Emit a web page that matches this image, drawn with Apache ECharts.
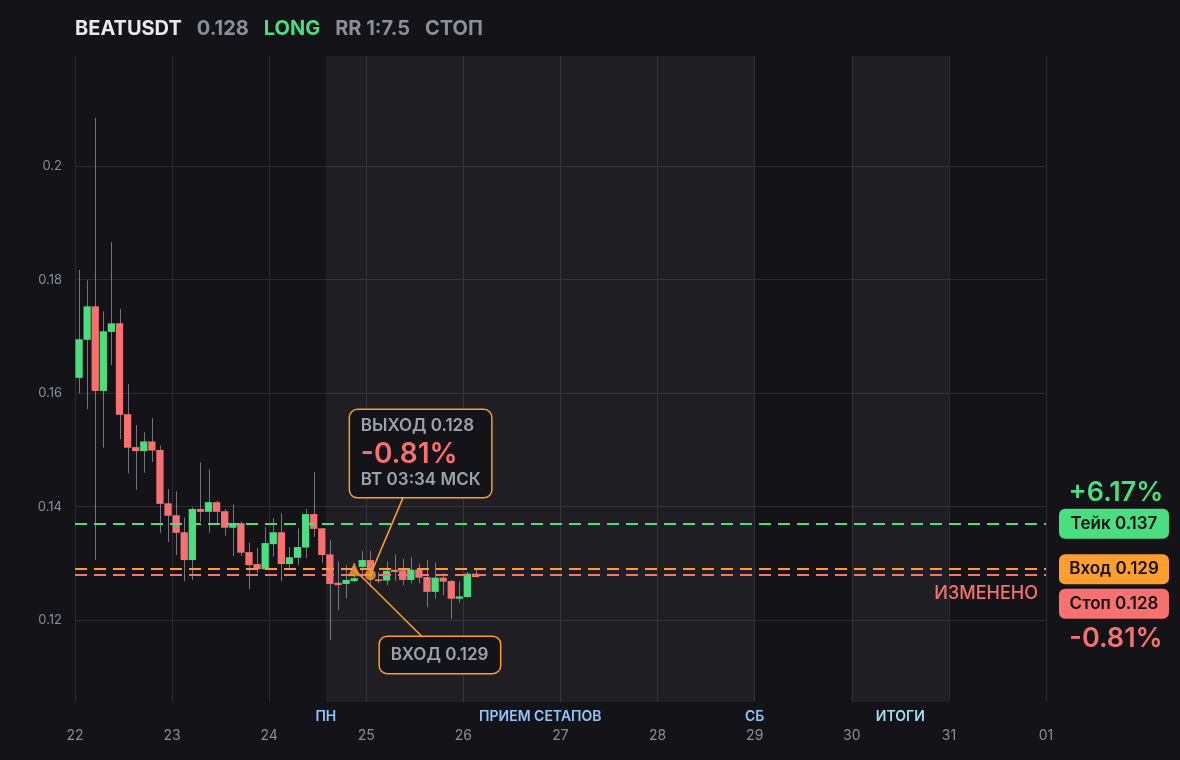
<!DOCTYPE html>
<html><head><meta charset="utf-8">
<script src="https://cdn.jsdelivr.net/npm/echarts@6/dist/echarts.min.js"></script>
<style>html,body{margin:0;padding:0;background:#131318;}#c{width:1180px;height:760px;}</style>
</head><body><div id="c"></div>
<script>
// ---- data ----
const dayLabels = ['22','23','24','25','26','27','28','29','30','31','01'];
const candleHours = 2;
const candleOpen  = [0.1627,0.1694,0.1753,0.1604,0.1708,0.1723,0.1563,0.1505,0.1498,0.1515,0.1500,0.1406,0.1385,0.1355,0.1306,0.1396,0.1391,0.1408,0.1392,0.1363,0.1371,0.1320,0.1299,0.1290,0.1334,0.1355,0.1299,0.1310,0.1328,0.1387,0.1362,0.1316,0.1266,0.1264,0.1269,0.1294,0.1306,0.1272,0.1270,0.1289,0.1288,0.1271,0.1289,0.1276,0.1250,0.1275,0.1269,0.1238,0.1241,0.1282];
const candleClose = [0.1695,0.1753,0.1604,0.1709,0.1723,0.1562,0.1504,0.1498,0.1515,0.1499,0.1405,0.1384,0.1354,0.1306,0.1396,0.1391,0.1408,0.1391,0.1363,0.1371,0.1319,0.1297,0.1290,0.1336,0.1355,0.1299,0.1311,0.1329,0.1387,0.1361,0.1315,0.1264,0.1262,0.1271,0.1274,0.1306,0.1290,0.1269,0.1287,0.1285,0.1271,0.1289,0.1275,0.1250,0.1275,0.1268,0.1238,0.1242,0.1282,0.1276];
const candleLow   = [0.1600,0.1572,0.1306,0.1504,0.1649,0.1519,0.1459,0.1430,0.1460,0.1479,0.1354,0.1338,0.1315,0.1269,0.1271,0.1373,0.1354,0.1371,0.1349,0.1313,0.1313,0.1255,0.1283,0.1290,0.1312,0.1269,0.1290,0.1297,0.1310,0.1347,0.1301,0.1165,0.1218,0.1239,0.1267,0.1274,0.1259,0.1265,0.1262,0.1269,0.1262,0.1265,0.1265,0.1223,0.1238,0.1244,0.1202,0.1231,0.1240,0.1276];
const candleHigh  = [0.1817,0.1799,0.2085,0.1744,0.1866,0.1748,0.1616,0.1544,0.1531,0.1556,0.1508,0.1431,0.1427,0.1381,0.1399,0.1478,0.1466,0.1411,0.1396,0.1404,0.1374,0.1337,0.1327,0.1364,0.1380,0.1389,0.1329,0.1362,0.1396,0.1461,0.1362,0.1341,0.1304,0.1297,0.1300,0.1322,0.1322,0.1285,0.1304,0.1316,0.1308,0.1311,0.1300,0.1306,0.1302,0.1283,0.1271,0.1269,0.1285,0.1292];
const takePrice = 0.137, entryPrice = 0.129, stopPrice = 0.128;
const entryCandle = 34, exitCandle = 36;
const zoneSetup = [2 + 14/24, 7];   // days after the 22nd
const zoneResult = [8, 9];
const yMin = 0.1056, yMax = 0.2194;

// ---- style ----
const BG = '#131318', GREEN = '#4ade80', RED = '#f87171', ORANGE = '#fd9e2e';
const GRAY = '#8b8f98', TXT = '#9ca3af', GRID = '#2b2c32', BLUE = '#93c5fd';
const FONT = 'Inter, "Noto Sans", sans-serif';

const candleData = candleOpen.map((o, i) => [(i + 0.5) * candleHours / 24, o, candleClose[i], candleLow[i], candleHigh[i]]);
const dayPos = i => i * candleHours / 24 + candleHours / 48;

const chart = echarts.init(document.getElementById('c'));
const hdr = (color, pad) => ({ color, fontSize: 20, fontWeight: 700, fontFamily: FONT, lineHeight: 24, padding: [0, pad, 0, 0] });
chart.setOption({
  backgroundColor: BG,
  animation: false,
  textStyle: { fontFamily: FONT },
  title: {
    left: 75, top: 17, padding: 0,
    text: '{a|BEATUSDT}{b|0.128}{c|LONG}{b|RR 1:7.5}{d|СТОП}',
    textStyle: { rich: { a: hdr('#e8e9ec', 15), b: hdr(GRAY, 15), c: hdr(GREEN, 15), d: hdr(GRAY, 0) } }
  },
  grid: { left: 75, right: 134, top: 56, bottom: 58 },
  xAxis: {
    type: 'value', min: 0, max: dayLabels.length - 1, interval: 1,
    axisLine: { show: false }, axisTick: { show: false },
    axisLabel: { color: GRAY, fontSize: 14, fontFamily: FONT, margin: 27, formatter: v => dayLabels[Math.round(v)] },
    splitLine: { show: true, lineStyle: { color: GRID, width: 1 } }
  },
  yAxis: {
    type: 'value', min: yMin, max: yMax, scale: true,
    axisLine: { show: false }, axisTick: { show: false },
    axisLabel: { color: GRAY, fontSize: 13, fontFamily: FONT, margin: 13, showMinLabel: false, showMaxLabel: false },
    splitLine: { show: true, showMinLine: false, showMaxLine: false, lineStyle: { color: GRID, width: 1 } }
  },
  series: [
    {
      type: 'line', data: [], z: 1, silent: true,
      markArea: {
        silent: true,
        itemStyle: { color: 'rgba(255,255,255,0.05)' },
        data: [
          [{ xAxis: zoneSetup[0] }, { xAxis: zoneSetup[1] }],
          [{ xAxis: zoneResult[0] }, { xAxis: zoneResult[1] }]
        ]
      }
    },
    {
      type: 'custom', z: 2,
      data: candleData,
      encode: { x: 0, y: [1, 2, 3, 4] },
      renderItem: (params, api) => {
        const x = api.value(0), o = api.value(1), c = api.value(2), l = api.value(3), h = api.value(4);
        const pO = api.coord([x, o]), pC = api.coord([x, c]), pL = api.coord([x, l]), pH = api.coord([x, h]);
        const w = api.size([candleHours / 24, 0])[0] * 0.9;
        const top = Math.min(pO[1], pC[1]), bot = Math.max(pO[1], pC[1]);
        const cx = Math.round(pO[0]) + 0.5;
        return { type: 'group', children: [
          { type: 'line', shape: { x1: cx, y1: pH[1], x2: cx, y2: pL[1] }, style: { stroke: 'rgba(150,153,162,0.75)', lineWidth: 1 } },
          { type: 'rect', shape: { x: pO[0] - w / 2, y: top, width: w, height: Math.max(bot - top, 1.5) }, style: { fill: c >= o ? GREEN : RED } }
        ] };
      }
    },
    {
      type: 'line', data: [], z: 3, silent: true,
      markLine: {
        silent: true, symbol: 'none', label: { show: false }, precision: 4,
        data: [
          { yAxis: takePrice, lineStyle: { color: GREEN, type: [12, 7], width: 2 } },
          { yAxis: entryPrice, lineStyle: { color: ORANGE, type: [12, 7], width: 2 } },
          { yAxis: stopPrice, lineStyle: { color: RED, type: [12, 7], width: 2 } }
        ]
      }
    },
    {
      type: 'scatter', z: 10, symbol: 'triangle', symbolSize: [12, 14],
      itemStyle: { color: ORANGE },
      data: [[dayPos(entryCandle), entryPrice]]
    },
    {
      type: 'scatter', z: 10, symbol: 'circle', symbolSize: 11,
      itemStyle: { color: ORANGE },
      data: [[dayPos(exitCandle), stopPrice]]
    }
  ]
});

// ---- overlay annotations positioned from the chart's own scales ----
const px = (x, y) => chart.convertToPixel({ xAxisIndex: 0, yAxisIndex: 0 }, [x, y]);
const right = px(dayLabels.length - 1, yMin)[0];
const bottom = px(0, yMin)[1];
const takeY = px(0, takePrice)[1], entryY = px(0, entryPrice)[1], stopY = px(0, stopPrice)[1];
const boxCx = right + 68;
const stopBoxY = entryY + 34.5;
const g = [];
function box(cy, color, text) {
  g.push({ type: 'rect', z: 20, shape: { x: boxCx - 55, y: cy - 15, width: 110, height: 30, r: 6 }, style: { fill: color } });
  g.push({ type: 'text', z: 21, x: boxCx, y: cy, style: { text, fill: '#111214', font: '600 17px ' + FONT, align: 'center', verticalAlign: 'middle' } });
}
function txt(x, y, text, color, font, align) {
  g.push({ type: 'text', z: 21, x, y, style: { text, fill: color, font, align: align || 'center', verticalAlign: 'middle' } });
}
txt(boxCx + 2, takeY - 31, '+6.17%', GREEN, '600 27px ' + FONT);
box(takeY, GREEN, 'Тейк 0.137');
box(entryY, ORANGE, 'Вход 0.129');
box(stopBoxY, RED, 'Стоп 0.128');
txt(boxCx + 2, stopBoxY + 35.5, '-0.81%', RED, '600 27px ' + FONT);
txt(right - 8, stopY + 19, 'ИЗМЕНЕНО', RED, '500 18px ' + FONT, 'right');

// zone labels under the axis
const labY = bottom + 14.5;
txt(px(zoneSetup[0], yMin)[0], labY, 'ПН', BLUE, '600 14px ' + FONT);
txt(px((zoneSetup[0] + zoneSetup[1]) / 2, yMin)[0], labY, 'ПРИЕМ СЕТАПОВ', BLUE, '600 14px ' + FONT);
txt(px(zoneSetup[1], yMin)[0], labY, 'СБ', BLUE, '600 14px ' + FONT);
txt(px((zoneResult[0] + zoneResult[1]) / 2, yMin)[0], labY, 'ИТОГИ', '#a5def0', '600 14px ' + FONT);

// exit annotation
const pExit = px(dayPos(exitCandle), stopPrice);
const b1 = { x: pExit[0] - 21, y: pExit[1] - 165.5, w: 142.5, h: 88.5 };
g.push({ type: 'line', z: 8, shape: { x1: pExit[0], y1: pExit[1], x2: pExit[0] + 32.6, y2: b1.y + b1.h }, style: { stroke: ORANGE, lineWidth: 1.5 } });
g.push({ type: 'rect', z: 9, shape: { x: b1.x, y: b1.y, width: b1.w, height: b1.h, r: 8 }, style: { fill: BG, stroke: ORANGE, lineWidth: 1.5 } });
txt(b1.x + 11.5, b1.y + 17, 'ВЫХОД 0.128', TXT, '600 17px ' + FONT, 'left');
txt(b1.x + 11.5, b1.y + 45, '-0.81%', RED, '600 28px ' + FONT, 'left');
txt(b1.x + 11.5, b1.y + 70.5, 'ВТ 03:34 МСК', TXT, '600 17px ' + FONT, 'left');

// entry annotation
const pEntry = px(dayPos(entryCandle), entryPrice);
const b2 = { x: pEntry[0] + 25, y: pEntry[1] + 67, w: 121.5, h: 37.5 };
g.push({ type: 'line', z: 8, shape: { x1: pEntry[0], y1: pEntry[1], x2: pEntry[0] + 67.5, y2: b2.y }, style: { stroke: ORANGE, lineWidth: 1.5 } });
g.push({ type: 'rect', z: 9, shape: { x: b2.x, y: b2.y, width: b2.w, height: b2.h, r: 8 }, style: { fill: BG, stroke: ORANGE, lineWidth: 1.5 } });
txt(b2.x + 11.5, b2.y + 18.5, 'ВХОД 0.129', TXT, '600 17px ' + FONT, 'left');

chart.setOption({ graphic: g });
</script>
</body></html>
